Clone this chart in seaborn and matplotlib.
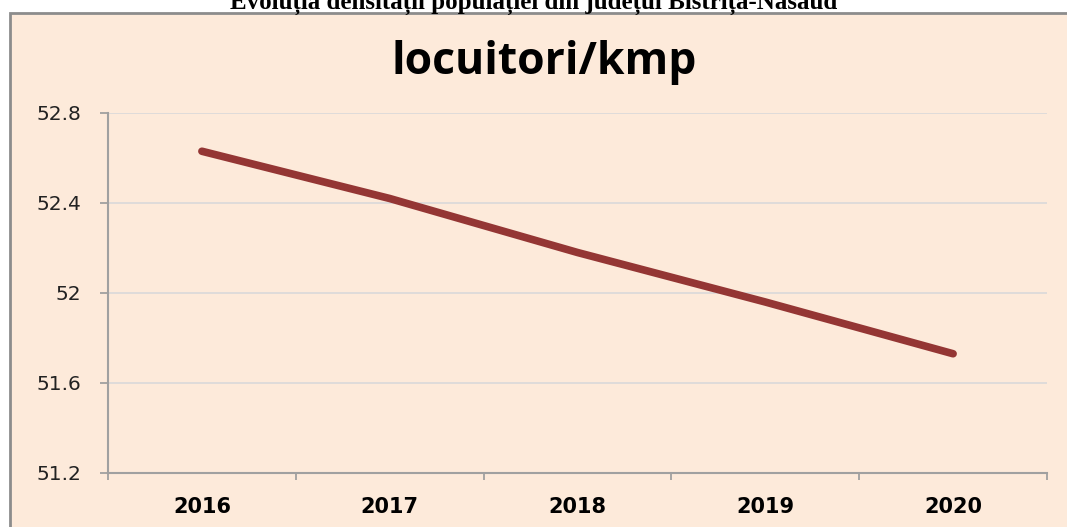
import numpy as np
import pandas as pd
import matplotlib
matplotlib.use("Agg")
import matplotlib.pyplot as plt
from matplotlib.patches import Rectangle
from matplotlib.ticker import FuncFormatter
import seaborn as sn

# data
years = ["2016", "2017", "2018", "2019", "2020"]
density = [52.63, 52.42, 52.18, 51.96, 51.73]
y_ticks = [51.2, 51.6, 52.0, 52.4, 52.8]

df = pd.DataFrame({"An": years, "Densitate": density})

sn.set_style("white")
plt.rcParams['font.family'] = ['DejaVu Sans']

peach = "#FDEADA"
fig = plt.figure(figsize=(10.67, 5.27), dpi=100)
fig.patch.set_facecolor("white")

# chart area box (peach, gray border)
box = Rectangle((10 / 1067, -0.05), 1.1, (527 - 12.5) / 527 + 0.05,
                transform=fig.transFigure, facecolor=peach,
                edgecolor="#8C8C8C", linewidth=2, zorder=-10)
fig.patches.append(box)

# document title, partly cut off at the top
fig.text(0.5, 1 - 9 / 527, "Evoluția densității populației din județul Bistrița-Năsăud",
         ha="center", va="baseline", fontsize=18, fontweight="bold",
         family=["Liberation Serif", "DejaVu Serif"], color="black")

# chart title
fig.text(544 / 1067, 1 - 74 / 527, "locuitori/kmp", ha="center", va="baseline",
         fontsize=32, fontweight="bold", family=["Open Sans", "DejaVu Sans"],
         color="black")

ax = fig.add_axes([108 / 1067, 54 / 527, (1047 - 108) / 1067, (473 - 113) / 527])
ax.set_zorder(5)
ax.set_facecolor(peach)

sn.lineplot(data=df, x="An", y="Densitate", ax=ax, color="#943634",
            linewidth=5.5, solid_capstyle="round", sort=False)

ax.set_xlim(-0.5, len(years) - 0.5)
ax.set_ylim(y_ticks[0], y_ticks[-1])
ax.set_yticks(y_ticks)
ax.yaxis.set_major_formatter(FuncFormatter(lambda v, p: f"{v:g}"))
ax.yaxis.grid(True, color="#D9D9D9", linewidth=1.2)
ax.set_axisbelow(True)

ax.set_xticks(np.arange(len(years)))
ax.set_xticklabels(years, fontweight="bold", fontsize=15, color="black")
ax.set_xticks(np.arange(-0.5, len(years)), minor=True)
ax.tick_params(axis="x", which="major", bottom=False, length=0, pad=17)
ax.tick_params(axis="x", which="minor", bottom=True, length=5, width=1.3,
               color="#A0A0A0", direction="out")
ax.tick_params(axis="y", left=True, length=6, width=1.3, color="#A0A0A0", direction="out",
               labelsize=14.5, labelcolor="#222222", pad=13.5)

for s in ["top", "right"]:
    ax.spines[s].set_visible(False)
for s in ["left", "bottom"]:
    ax.spines[s].set_color("#A0A0A0")
    ax.spines[s].set_linewidth(1.5)

ax.set_xlabel("")
ax.set_ylabel("")

fig.savefig("out.png", dpi=100, facecolor=fig.get_facecolor())
